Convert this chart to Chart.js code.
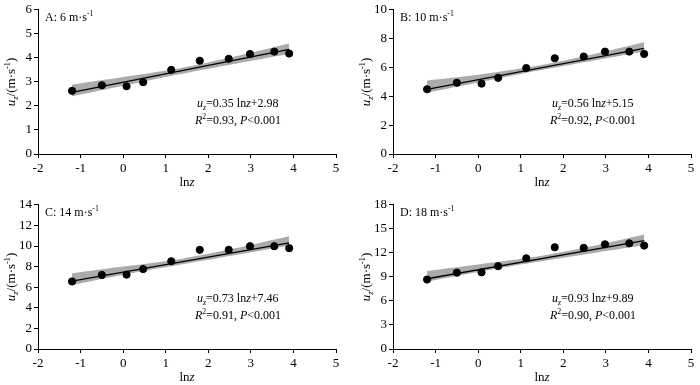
<!DOCTYPE html>
<html>
<head>
<meta charset="utf-8">
<script src="https://cdn.jsdelivr.net/npm/chart.js@4/dist/chart.umd.min.js"></script>
<style>
  body{margin:0;background:#fff;}
  #wrap{position:relative;width:700px;height:385px;overflow:hidden;}
  canvas{position:absolute;}
</style>
</head>
<body>
<div id="wrap">
  <canvas id="pA" width="350" height="190" style="left:0;top:0"></canvas>
  <canvas id="pB" width="350" height="190" style="left:355px;top:0"></canvas>
  <canvas id="pC" width="350" height="190" style="left:0;top:195px"></canvas>
  <canvas id="pD" width="350" height="190" style="left:355px;top:195px"></canvas>
</div>
<script>
// lnz of the measuring heights
const lnz = [-1.2, -0.5, 0.08, 0.47, 1.13, 1.8, 2.48, 2.98, 3.55, 3.9];
// measured wind speed u_z for each free stream speed
const uA = [2.63, 2.86, 2.82, 2.99, 3.5, 3.88, 3.96, 4.16, 4.26, 4.18];
const uB = [4.49, 4.94, 4.88, 5.28, 5.96, 6.64, 6.76, 7.1, 7.1, 6.94];
const uC = [6.56, 7.19, 7.22, 7.76, 8.52, 9.63, 9.63, 9.98, 9.98, 9.79];
const uD = [8.67, 9.53, 9.57, 10.34, 11.32, 12.7, 12.62, 13.07, 13.19, 12.91];

// fitted line ends
const fitX = [-1.2, 3.9];
const fitA = [2.56, 4.35];
const fitB = [4.48, 7.33];
const fitC = [6.58, 10.31];
const fitD = [8.77, 13.52];

// confidence band
const bandX = [-1.2, 0, 1.35, 2.6, 3.9];
const upA = [2.88, 3.2, 3.58, 4.05, 4.6];
const loA = [2.40, 2.84, 3.33, 3.75, 4.16];
const upB = [5.1, 5.5, 6.1, 6.85, 7.75];
const loB = [4.25, 4.95, 5.75, 6.42, 7.1];
const upC = [7.35, 8.0, 8.75, 9.75, 10.95];
const loC = [6.2, 7.2, 8.2, 9.1, 10.05];
const upD = [9.75, 10.55, 11.5, 12.75, 14.3];
const loD = [8.4, 9.6, 10.85, 11.9, 12.95];

const xTicks = [-2, -1, 0, 1, 2, 3, 4, 5];
const yMax = [6, 10, 14, 18];
const yStep = [1, 2, 2, 3];
const panelNames = ['A: 6 m·s', 'B: 10 m·s', 'C: 14 m·s', 'D: 18 m·s'];
const slopes = ['0.35', '0.56', '0.73', '0.93'];
const intercepts = ['2.98', '5.15', '7.46', '9.89'];
const r2 = ['0.93', '0.92', '0.91', '0.90'];

const FONT = '"Liberation Serif", "Times New Roman", serif';
const FS = 13;   // ticks and axis titles
const FT = 12;   // labels inside the plot

function pts(xs, ys){ return xs.map((x, i) => ({x: x, y: ys[i]})); }

// draw text pieces: {t, it, sub, sup}
function richWidth(ctx, parts, fs){
  let w = 0;
  parts.forEach(p => {
    const s = (p.sub || p.sup) ? fs * 0.65 : fs;
    ctx.font = (p.it ? 'italic ' : '') + s + 'px ' + FONT;
    w += ctx.measureText(p.t).width;
  });
  return w;
}
function drawRich(ctx, x, y, parts, fs){
  ctx.textBaseline = 'middle';
  ctx.textAlign = 'left';
  ctx.fillStyle = '#000';
  parts.forEach(p => {
    const s = (p.sub || p.sup) ? fs * 0.65 : fs;
    ctx.font = (p.it ? 'italic ' : '') + s + 'px ' + FONT;
    let dy = 0;
    if (p.sub) dy = 4;
    if (p.sup) dy = -4;
    ctx.fillText(p.t, x, y + dy);
    x += ctx.measureText(p.t).width;
  });
}

const textPlugin = {
  id: 'texts',
  afterDraw(chart){
    const ctx = chart.ctx;
    const a = chart.chartArea;
    const k = chart.options.plugins.texts.k;
    ctx.save();
    // y title
    const yt = [{t:'u', it:true}, {t:'z', it:true, sub:true}, {t:'/(m·s'}, {t:'-1', sup:true}, {t:')'}];
    ctx.save();
    ctx.translate(12, (a.top + a.bottom) / 2);
    ctx.rotate(-Math.PI / 2);
    drawRich(ctx, -richWidth(ctx, yt, FS) / 2, 0, yt, FS);
    ctx.restore();
    // x title
    const xt = [{t:'ln'}, {t:'z', it:true}];
    drawRich(ctx, (a.left + a.right) / 2 - richWidth(ctx, xt, FS) / 2, a.bottom + 29, xt, FS);
    // panel label
    drawRich(ctx, a.left + 7, a.top + 8, [{t: panelNames[k]}, {t:'-1', sup:true}], FT);
    // equation
    drawRich(ctx, a.left + 159, a.top + 94, [
      {t:'u', it:true}, {t:'z', it:true, sub:true}, {t:'=' + slopes[k] + ' ln'}, {t:'z', it:true}, {t:'+' + intercepts[k]}
    ], FT);
    drawRich(ctx, a.left + 157, a.top + 111, [
      {t:'R', it:true}, {t:'2', sup:true}, {t:'=' + r2[k] + ', '}, {t:'P', it:true}, {t:'<0.001'}
    ], FT);
    ctx.restore();
  }
};

function makePanel(id, k, u, fit, up, lo){
  new Chart(document.getElementById(id), {
    type: 'scatter',
    data: {
      datasets: [
        {type:'line', order:3, data: pts(bandX, up), borderWidth:0, pointRadius:0, fill:'+1',
         backgroundColor:'#ababab', tension:0.3},
        {type:'line', order:4, data: pts(bandX, lo), borderWidth:0, pointRadius:0, fill:false, tension:0.3},
        {type:'line', order:1, data: pts(fitX, fit), borderColor:'#000', borderWidth:1.3, pointRadius:0, fill:false},
        {order:0, data: pts(lnz, u), backgroundColor:'#000', borderColor:'#000', pointRadius:3.6, pointHoverRadius:3.6}
      ]
    },
    options: {
      responsive: false,
      animation: false,
      devicePixelRatio: 1,
      layout: {padding: {top: 7, right: 14, left: 0, bottom: 0}},
      plugins: {legend: {display:false}, tooltip: {enabled:false}, texts: {k: k}},
      scales: {
        x: {
          type: 'linear', min: -2, max: 5,
          afterBuildTicks: s => { s.ticks = xTicks.map(v => ({value: v})); },
          afterFit: s => { s.height = 36; },
          grid: {drawOnChartArea:false, drawTicks:true, tickLength:4, color:'#000'},
          border: {color:'#000', width:1},
          ticks: {color:'#000', padding:3, font:{family:FONT, size:FS}, maxRotation:0}
        },
        y: {
          min: 0, max: yMax[k],
          afterFit: s => { s.width = 38; },
          grid: {drawOnChartArea:false, drawTicks:true, tickLength:4, color:'#000'},
          border: {color:'#000', width:1},
          ticks: {color:'#000', padding:2, stepSize: yStep[k], font:{family:FONT, size:FS}}
        }
      }
    },
    plugins: [textPlugin]
  });
}

makePanel('pA', 0, uA, fitA, upA, loA);
makePanel('pB', 1, uB, fitB, upB, loB);
makePanel('pC', 2, uC, fitC, upC, loC);
makePanel('pD', 3, uD, fitD, upD, loD);
</script>
</body>
</html>
